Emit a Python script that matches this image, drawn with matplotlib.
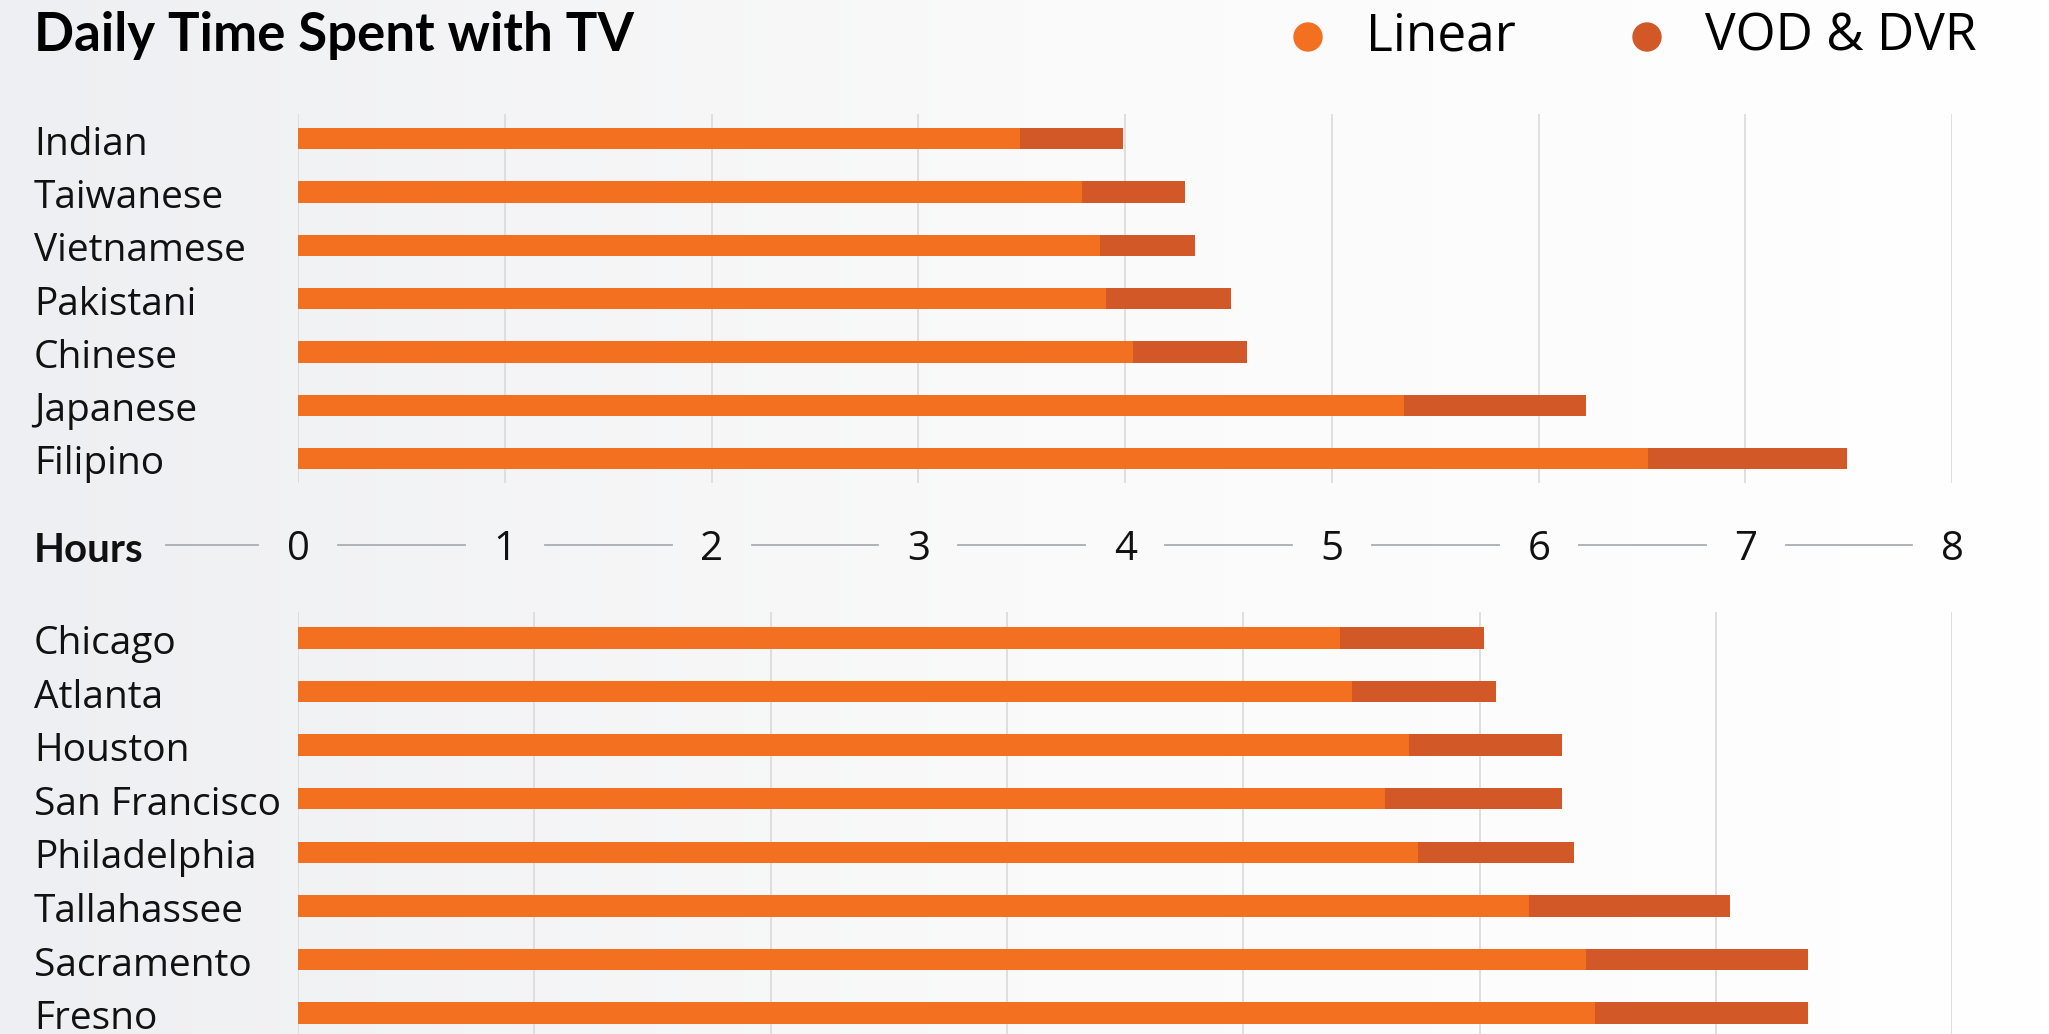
import matplotlib
matplotlib.use('Agg')
import matplotlib.pyplot as plt
import matplotlib.transforms as mtransforms
import numpy as np

# ---- data (hours) ----
ethnic_groups = ['Indian', 'Taiwanese', 'Vietnamese', 'Pakistani', 'Chinese', 'Japanese', 'Filipino']
ethnic_linear = [3.49, 3.79, 3.88, 3.91, 4.04, 5.35, 6.53]
ethnic_total = [3.99, 4.29, 4.34, 4.51, 4.59, 6.23, 7.49]

cities = ['Chicago', 'Atlanta', 'Houston', 'San Francisco', 'Philadelphia',
          'Tallahassee', 'Sacramento', 'Fresno']
# bottom panel is drawn on its own 7-division grid (as in the original)
city_linear = [4.41, 4.46, 4.70, 4.60, 4.74, 5.21, 5.45, 5.49]
city_total = [5.02, 5.07, 5.35, 5.35, 5.40, 6.06, 6.39, 6.39]

hour_ticks = [0, 1, 2, 3, 4, 5, 6, 7, 8]

LINEAR = '#F37021'
VOD = '#D35827'
GRID = '#dcdcdc'
FONT = 'Open Sans'
BOLD = 'Lato'

fig = plt.figure(figsize=(20.49, 10.34), dpi=100)

# faint background gradient (grey on the left, white to the right)
bg = fig.add_axes([0, 0, 1, 1], zorder=-10)
grad = np.linspace(0, 1, 256)
grad = np.vstack([grad, grad])
bg.imshow(grad, aspect='auto', cmap=matplotlib.colors.LinearSegmentedColormap.from_list(
    'bg', ['#eeeff2', '#fafafa', '#ffffff']), extent=[0, 1, 0, 1])
bg.axis('off')

left, width = 0.1454, 0.8074
label_x = 34 / 2049.0


def draw_panel(ax, labels, linear, total, xmax):
    y = np.arange(len(labels))
    vod = np.array(total) - np.array(linear)
    ax.barh(y, linear, height=0.4, color=LINEAR, edgecolor='none', zorder=3)
    ax.barh(y, vod, left=linear, height=0.4, color=VOD, edgecolor='none', zorder=3)
    ax.set_xlim(0, xmax)
    ax.set_xticks(range(xmax + 1))
    ax.grid(axis='x', color=GRID, linewidth=1.3, zorder=0)
    ax.tick_params(length=0, labelbottom=False, labelleft=False)
    ax.set_yticks(y)
    trans = mtransforms.blended_transform_factory(fig.transFigure, ax.transData)
    for yi, lab in zip(y, labels):
        ax.text(label_x, yi + 0.3, lab, transform=trans, fontsize=28, fontfamily=FONT,
                color='#111111', ha='left', va='baseline', clip_on=False)
    for s in ax.spines.values():
        s.set_visible(False)
    ax.patch.set_alpha(0)


ax1 = fig.add_axes([left, 0.5324, width, 0.3576])
draw_panel(ax1, ethnic_groups, ethnic_linear, ethnic_total, 8)
ax1.set_ylim(6.47, -0.47)

ax2 = fig.add_axes([left, 0.0, width, 0.4085])
draw_panel(ax2, cities, city_linear, city_total, 7)
ax2.set_ylim(7.39, -0.49)

# ---- "Hours" scale row between the panels ----
hy = 1 - 550 / 1034.0
fig.text(label_x, hy, 'Hours', fontsize=29, fontweight='bold', fontfamily=BOLD,
         va='center', ha='left', color='#111111')
tick_px = [298 + h * (1952.4 - 298) / 8.0 for h in hour_ticks]
for h, px in zip(hour_ticks, tick_px):
    fig.text(px / 2049.0, hy, str(h), fontsize=29, fontfamily=FONT,
             va='center', ha='center', color='#111111')
seg_starts = [166] + [p + 40 for p in tick_px[:-1]]
seg_ends = [tick_px[0] - 40] + [p - 40 for p in tick_px[1:]]
line_y = hy + 5 / 1034.0
for a, b in zip(seg_starts, seg_ends):
    fig.add_artist(matplotlib.lines.Line2D([a / 2049.0, b / 2049.0], [line_y, line_y],
                                           color='#a9adb2', linewidth=1.3))

# ---- title and legend ----
fig.text(label_x, 1 - 35 / 1034.0, 'Daily Time Spent with TV', fontsize=38,
         fontweight='bold', fontfamily=BOLD, va='center', ha='left', color='#000000')
ly = 1 - 37 / 1034.0
fig.add_artist(matplotlib.patches.Ellipse((1308 / 2049.0, ly), 28 / 2049.0, 28 / 1034.0,
                                          color=LINEAR, transform=fig.transFigure))
fig.text(1366 / 2049.0, ly, 'Linear', fontsize=37, fontfamily=FONT, va='center', ha='left')
fig.add_artist(matplotlib.patches.Ellipse((1647 / 2049.0, ly), 28 / 2049.0, 28 / 1034.0,
                                          color=VOD, transform=fig.transFigure))
fig.text(1705 / 2049.0, ly, 'VOD & DVR', fontsize=37, fontfamily=FONT, va='center', ha='left')

plt.savefig('out.png', dpi=100)
